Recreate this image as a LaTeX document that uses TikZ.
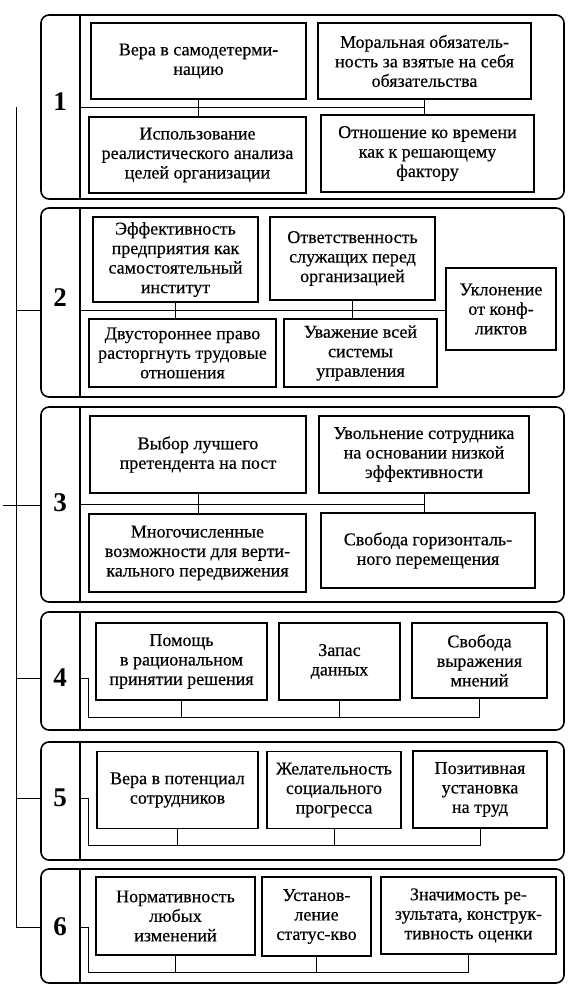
\documentclass[tikz,border=0pt]{standalone}
\usepackage{fontspec}
\setmainfont{Liberation Serif}
\newfontfamily\boxfont[FakeBold=0.4]{Liberation Serif}
\begin{document}
\begin{tikzpicture}[x=1pt,y=-1pt,
  bx/.style={draw, line width=1.6pt, align=center, inner sep=0pt, font=\boxfont\fontsize{18}{19.5}\selectfont},
  panel/.style={draw, line width=1.6pt, rounded corners=8pt},
  divl/.style={line width=1.3pt},
  conn/.style={line width=0.9pt},
  tree/.style={line width=0.9pt},
  num/.style={font=\fontsize{27}{27}\selectfont\bfseries, inner sep=0pt}]
\useasboundingbox (0,0) rectangle (579,1007);
\fill[white] (0,0) rectangle (579,1007);

% ---------- panels ----------
\foreach \t/\b in {15/199, 208/397, 407/602, 612/730, 742/860, 869/983}{
  \draw[panel] (41,\t) rectangle (564,\b);
  \draw[divl] (80,\t) -- (80,\b);
}
\node[num] (n1) at (60,102) {1};
\node[num] (n2) at (60,298) {2};
\node[num] (n3) at (60,503) {3};
\node[num] (n4) at (60,678) {4};
\node[num] (n5) at (60,798) {5};
\node[num] (n6) at (60,927) {6};

% ---------- panel 1 ----------
\node[bx, minimum width=215pt, minimum height=76pt] (A) at (198.5,61) {Вера в самодетерми-\\нацию};
\node[bx, minimum width=213pt, minimum height=76pt] (B) at (424.5,61) {Моральная обязатель-\\ность за взятые на себя\\обязательства};
\node[bx, minimum width=217pt, minimum height=76pt] (C) at (197.5,155) {Использование\\реалистического анализа\\целей организации};
\node[bx, minimum width=213pt, minimum height=77pt] (D) at (427.5,153.5) {Отношение ко времени\\как к решающему\\фактору};
\coordinate (d1) at (80,107);
\draw[conn] (d1) -- (B.south |- d1);
\draw[conn] (A.south) -- (A.south |- C.north);
\draw[conn] (B.south) -- (B.south |- D.north);

% ---------- panel 2 ----------
\node[bx, minimum width=165pt, minimum height=85pt] (E) at (175.5,259.5) {Эффективность\\предприятия как\\самостоятельный\\институт};
\node[bx, minimum width=165pt, minimum height=83pt] (F) at (352.5,258.5) {Ответственность\\служащих перед\\организацией};
\node[bx, minimum width=110pt, minimum height=82pt] (G) at (501,309) {Уклонение\\от конф-\\ликтов};
\node[bx, minimum width=187pt, minimum height=68pt] (H) at (182.5,353) {Двустороннее право\\расторгнуть трудовые\\отношения};
\node[bx, minimum width=153pt, minimum height=68pt] (I) at (360.5,353) {Уважение всей\\системы\\управления};
\coordinate (d2) at (80,310);
\draw[conn] (d2) -- (G.west |- d2);
\draw[conn] (E.south) -- (E.south |- H.north);
\draw[conn] (F.south) -- (F.south |- I.north);

% ---------- panel 3 ----------
\node[bx, minimum width=216pt, minimum height=77pt] (J) at (198,454.5) {Выбор лучшего\\претендента на пост};
\node[bx, minimum width=210pt, minimum height=77pt] (K) at (424,454.5) {Увольнение сотрудника\\на основании низкой\\эффективности};
\node[bx, minimum width=217pt, minimum height=78pt] (L) at (197.5,553) {Многочисленные\\возможности для верти-\\кального передвижения};
\node[bx, minimum width=214pt, minimum height=75pt] (M) at (428,550.5) {Свобода горизонталь-\\ного перемещения};
\coordinate (d3) at (80,504);
\draw[conn] (d3) -- (K.south |- d3);
\draw[conn] (J.south) -- (J.south |- L.north);
\draw[conn] (K.south) -- (K.south |- M.north);

% ---------- panel 4 ----------
\node[bx, minimum width=171pt, minimum height=77pt] (N) at (181.5,661.5) {Помощь\\в рациональном\\принятии решения};
\node[bx, minimum width=121pt, minimum height=77pt] (O) at (339.5,661.5) {Запас\\данных};
\node[bx, minimum width=135pt, minimum height=75pt] (P) at (479.5,660.5) {Свобода\\выражения\\мнений};
\coordinate (d4) at (80,678);
\coordinate (b4) at (88,717);
\draw[conn] (d4) -| (b4) -- (P.south |- b4) -- (P.south);
\draw[conn] (N.south) -- (N.south |- b4);
\draw[conn] (O.south) -- (O.south |- b4);

% ---------- panel 5 ----------
\node[bx, minimum width=161pt, minimum height=77pt] (Q) at (177.5,790) {Вера в потенциал\\сотрудников};
\node[bx, minimum width=134pt, minimum height=77pt] (R) at (334,790) {Желательность\\социального\\прогресса};
\node[bx, minimum width=134pt, minimum height=77pt] (S) at (480,789.5) {Позитивная\\установка\\на труд};
\coordinate (d5) at (80,798);
\coordinate (b5) at (88,845);
\draw[conn] (d5) -| (b5) -- (S.south |- b5) -- (S.south);
\draw[conn] (Q.south) -- (Q.south |- b5);
\draw[conn] (R.south) -- (R.south |- b5);

% ---------- panel 6 ----------
\node[bx, minimum width=159pt, minimum height=78pt] (T) at (175.5,916) {Нормативность\\любых\\изменений};
\node[bx, minimum width=109pt, minimum height=79pt] (U) at (316.5,916.5) {Установ-\\ление\\статус-кво};
\node[bx, minimum width=175pt, minimum height=77pt] (V) at (468.5,915.5) {Значимость ре-\\зультата, конструк-\\тивность оценки};
\coordinate (d6) at (80,927);
\coordinate (b6) at (88,972);
\draw[conn] (d6) -| (b6) -- (V.south |- b6) -- (V.south);
\draw[conn] (T.south) -- (T.south |- b6);
\draw[conn] (U.south) -- (U.south |- b6);

% ---------- left tree ----------
\coordinate (t0) at (16,107);
\coordinate (t6) at (16,927);
\coordinate (t3s) at (3,505);
\draw[tree] (t0) -- (t6) -- (41,927);
\draw[tree] (16,310) -- (41,310);
\draw[tree] (t3s) -- (41,505);
\draw[tree] (16,678) -- (41,678);
\draw[tree] (16,798) -- (41,798);
\end{tikzpicture}
\end{document}
